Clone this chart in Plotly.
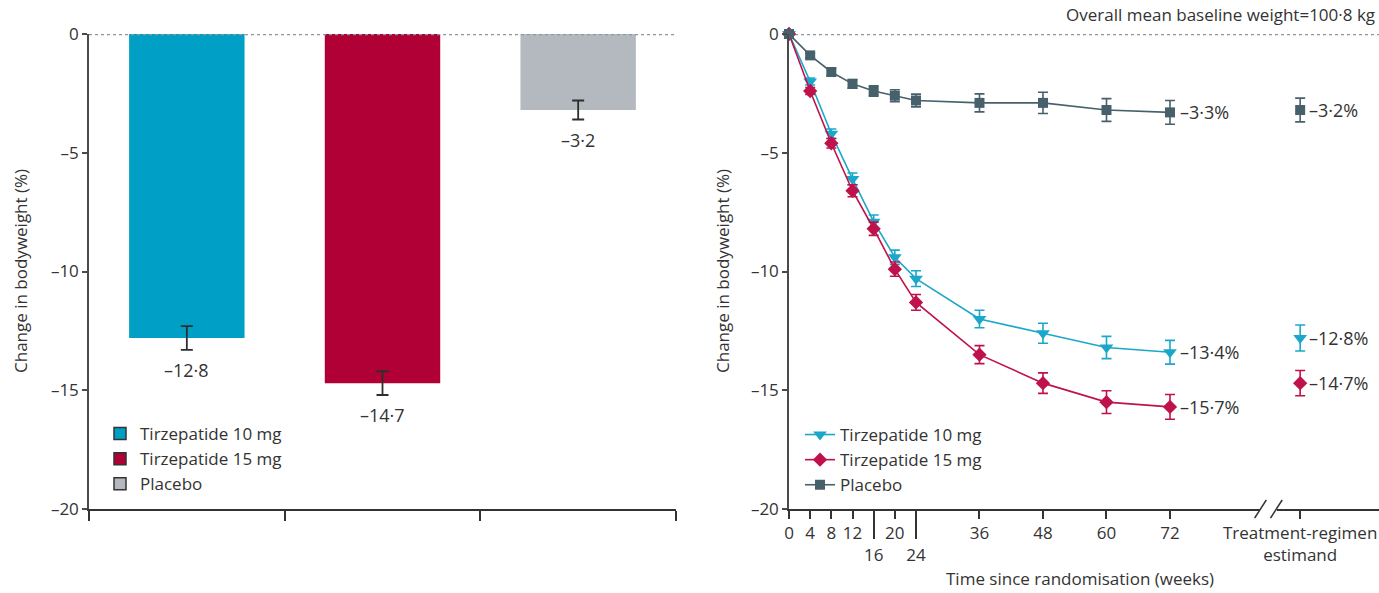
import plotly.graph_objects as go

# ---------------- data ----------------
categories = ["Tirzepatide 10 mg", "Tirzepatide 15 mg", "Placebo"]
bar_values = [-12.8, -14.7, -3.2]
bar_se = [0.5, 0.5, 0.4]

weeks = [0, 4, 8, 12, 16, 20, 24, 36, 48, 60, 72]
t10 = [0, -2.0, -4.2, -6.1, -7.9, -9.4, -10.3, -12.0, -12.6, -13.2, -13.4]
t10_se = [0, 0.15, 0.2, 0.25, 0.28, 0.3, 0.33, 0.37, 0.42, 0.47, 0.5]
t15 = [0, -2.4, -4.6, -6.6, -8.2, -9.9, -11.3, -13.5, -14.7, -15.5, -15.7]
t15_se = [0, 0.15, 0.2, 0.25, 0.28, 0.3, 0.33, 0.38, 0.43, 0.48, 0.52]
pbo = [0, -0.9, -1.6, -2.1, -2.4, -2.6, -2.8, -2.9, -2.9, -3.2, -3.3]
pbo_se = [0, 0.1, 0.15, 0.18, 0.22, 0.25, 0.27, 0.38, 0.45, 0.48, 0.5]

estimand_values = [-12.8, -14.7, -3.2]
estimand_se = [0.55, 0.53, 0.5]

y_ticks = [0, -5, -10, -15, -20]
y_ticktext = ["0", "–5", "–10", "–15", "–20"]
week_ticks = [0, 4, 8, 12, 16, 20, 24, 36, 48, 60, 72]
week_ticktext = ["0", "4", "8", "12", "<br>16", "20", "<br>24", "36", "48", "60", "72"]
long_ticks = [16, 24]
ESTIMAND_X = 96.6
estimand_label = "Treatment-regimen<br>estimand"

# ---------------- styles ----------------
bar_colors = ["#00A0C6", "#B00036", "#B3B9BF"]
line_colors = ["#1BA7C9", "#C0124A", "#46616B"]
symbols = ["triangle-down", "diamond", "square"]
msizes = [12, 11, 10]
TEXT = "#333333"
AX = "#4a4a4a"
FONT = "Open Sans, Liberation Sans, sans-serif"
FS = 17


def fmt(v, pct=False):
    s = "–" + f"{abs(v):.1f}".replace(".", "·")
    return s + ("%" if pct else "") if v != 0 else "0"


W, H = 1379, 593
def px_x(p):
    return p / W
def px_y(p):
    return 1 - p / H

fig = go.Figure()

# --- left: bars ---
xs = [i + 0.5 for i in range(len(categories))]
for i, cat in enumerate(categories):
    fig.add_trace(go.Bar(
        x=[xs[i]], y=[bar_values[i]], width=0.59,
        marker=dict(color=bar_colors[i], line=dict(width=0)),
        error_y=dict(type="data", array=[bar_se[i]], color="#2e2e2e", thickness=1.8, width=6),
        showlegend=False, xaxis="x", yaxis="y", hoverinfo="skip"))
# legend proxies for bar chart
for i, cat in enumerate(categories):
    fig.add_trace(go.Bar(
        x=[None], y=[None], name=cat,
        marker=dict(color=bar_colors[i], line=dict(color="#333333", width=1.5)),
        xaxis="x", yaxis="y", legend="legend"))

# --- right: lines ---
series = [(categories[0], t10, t10_se), (categories[1], t15, t15_se), (categories[2], pbo, pbo_se)]
for i, (name, vals, se) in enumerate(series):
    fig.add_trace(go.Scatter(
        x=weeks, y=vals, name=name, mode="lines+markers",
        line=dict(color=line_colors[i], width=1.6),
        marker=dict(symbol=symbols[i], size=msizes[i], color=line_colors[i]),
        error_y=dict(type="data", array=se, color=line_colors[i], thickness=1.6, width=5),
        cliponaxis=False, xaxis="x2", yaxis="y2", legend="legend2"))
for i in range(3):
    fig.add_trace(go.Scatter(
        x=[ESTIMAND_X], y=[estimand_values[i]], mode="markers",
        marker=dict(symbol=symbols[i], size=msizes[i], color=line_colors[i]),
        error_y=dict(type="data", array=[estimand_se[i]], color=line_colors[i], thickness=1.6, width=5),
        cliponaxis=False, showlegend=False, xaxis="x2", yaxis="y2"))

annotations = []
for i in range(3):
    annotations.append(dict(x=xs[i], y=bar_values[i] - bar_se[i], xref="x", yref="y",
                            text=fmt(bar_values[i]), showarrow=False, xanchor="center", yanchor="top",
                            yshift=-6, font=dict(size=18, color=TEXT, family=FONT)))
for i, (name, vals, se) in enumerate(series):
    annotations.append(dict(x=weeks[-1], y=vals[-1], xref="x2", yref="y2",
                            text=fmt(vals[-1], True), showarrow=False, xanchor="left", yanchor="middle",
                            xshift=8, font=dict(size=18, color=TEXT, family=FONT)))
    annotations.append(dict(x=ESTIMAND_X, y=estimand_values[i], xref="x2", yref="y2",
                            text=fmt(estimand_values[i], True), showarrow=False, xanchor="left",
                            yanchor="middle", xshift=7, font=dict(size=18, color=TEXT, family=FONT)))
# titles
annotations += [
    dict(x=px_x(20), y=px_y(271), xref="paper", yref="paper", text="Change in bodyweight (%)",
         xanchor="center", yanchor="middle",
         textangle=-90, showarrow=False, font=dict(size=FS, color=TEXT, family=FONT)),
    dict(x=px_x(722), y=px_y(271), xref="paper", yref="paper", text="Change in bodyweight (%)",
         xanchor="center", yanchor="middle",
         textangle=-90, showarrow=False, font=dict(size=FS, color=TEXT, family=FONT)),
    dict(x=px_x(1080), y=px_y(578), xref="paper", yref="paper", text="Time since randomisation (weeks)",
         xanchor="center", yanchor="middle",
         showarrow=False, font=dict(size=FS, color=TEXT, family=FONT)),
    dict(x=px_x(1377), y=px_y(14), xref="paper", yref="paper", xanchor="right", yanchor="middle",
         text="Overall mean baseline weight=100·8 kg",
         showarrow=False, font=dict(size=FS, color=TEXT, family=FONT)),
]

XR2 = [0, 111.5]
y_bottom = px_y(509)
DOT = dict(color="#8A98A3", width=2.6, dash="dot")
shapes = [
    dict(type="line", xref="x domain", yref="y", x0=0, x1=1, y0=0, y1=0, line=DOT, layer="above"),
    dict(type="line", xref="x2 domain", yref="y2", x0=0, x1=1, y0=0, y1=0, line=DOT, layer="below"),
    # axis break
    dict(type="rect", xref="x2", yref="paper", x0=89.0, x1=92.2, y0=y_bottom - 0.006, y1=y_bottom + 0.006,
         fillcolor="white", line=dict(width=0), layer="above"),
]
for xc in (89.1, 92.1):
    shapes.append(dict(type="line", xref="x2", yref="paper", x0=xc - 1.1, x1=xc + 1.1,
                       y0=y_bottom - 9 / H, y1=y_bottom + 9 / H,
                       line=dict(color="#333333", width=1.5), layer="above"))

tickfont = dict(size=FS, color=TEXT, family=FONT)
ydom = [px_y(509), px_y(34)]
fig.update_layout(
    width=W, height=H, margin=dict(l=0, r=0, t=0, b=0, autoexpand=False),
    paper_bgcolor="white", plot_bgcolor="white", font=dict(family=FONT, color=TEXT),
    barmode="overlay",
    xaxis=dict(domain=[px_x(89), px_x(676)], range=[0, 3], anchor="y", automargin=False,
               tickvals=[0, 1, 2, 3], showticklabels=False, ticks="outside", ticklen=10,
               tickwidth=1.5, tickcolor="#333333", showline=True, linecolor="#333333", linewidth=1.5,
               showgrid=False, zeroline=False, fixedrange=True),
    yaxis=dict(domain=ydom, range=[-20, 0], anchor="x", tickvals=y_ticks, ticktext=y_ticktext,
               automargin=False,
               ticks="outside", ticklen=5, tickwidth=1.5, tickcolor=AX, tickfont=tickfont,
               showline=True, linecolor=AX, linewidth=1.5, showgrid=False, zeroline=False),
    xaxis2=dict(domain=[px_x(789), 1.0], range=XR2, anchor="y2", automargin=False, tickangle=0,
                tickvals=week_ticks + [ESTIMAND_X], ticktext=week_ticktext + [estimand_label],
                ticks="outside", ticklen=8, tickwidth=1.5, tickcolor="#333333", tickfont=tickfont,
                showline=True, linecolor="#333333", linewidth=1.5, showgrid=False, zeroline=False),
    xaxis3=dict(overlaying="x2", range=XR2, anchor="y2", side="bottom", tickvals=long_ticks,
                automargin=False,
                showticklabels=False, ticks="outside", ticklen=29, tickwidth=1.5, tickcolor="#333333",
                showline=False, showgrid=False, zeroline=False),
    yaxis2=dict(domain=ydom, range=[-20, 0], anchor="x2", tickvals=y_ticks, ticktext=y_ticktext,
                automargin=False,
                ticks="outside", ticklen=5, tickwidth=1.5, tickcolor=AX, tickfont=tickfont,
                showline=True, linecolor=AX, linewidth=1.5, showgrid=False, zeroline=False),
    legend=dict(x=px_x(100), y=px_y(416), xanchor="left", yanchor="top", bgcolor="rgba(0,0,0,0)",
                font=dict(size=FS, color=TEXT, family=FONT), tracegroupgap=0),
    legend2=dict(x=px_x(800), y=px_y(417), xanchor="left", yanchor="top", bgcolor="rgba(0,0,0,0)",
                 font=dict(size=FS, color=TEXT, family=FONT), tracegroupgap=0),
    annotations=annotations, shapes=shapes,
)
# dummy trace to activate xaxis3
fig.add_trace(go.Scatter(x=[None], y=[None], xaxis="x3", yaxis="y2", showlegend=False, hoverinfo="skip"))

fig.write_html("out.html", config={"displayModeBar": False},
               post_script="document.body.style.margin='0px';")
